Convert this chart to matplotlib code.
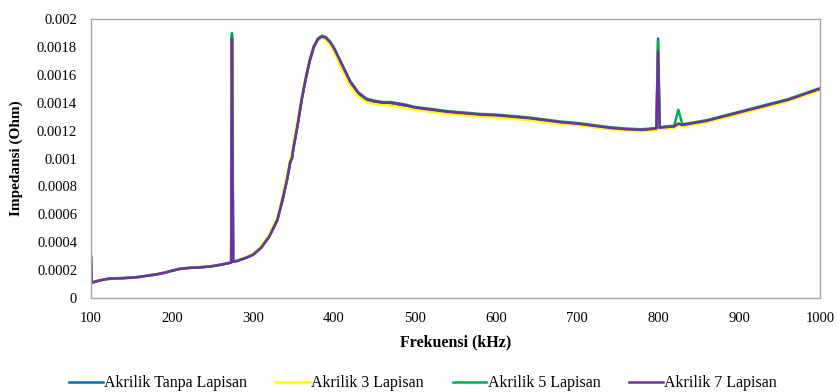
import numpy as np
import matplotlib as mpl
mpl.use('Agg')
import matplotlib.pyplot as plt

plt.rcParams['font.family'] = ['Liberation Serif', 'DejaVu Serif']

# frekuensi (kHz)
freq = [100, 101, 110, 120, 130, 140, 150, 160, 170, 180,
        190, 200, 210, 220, 230, 240, 250, 260, 270, 273,
        274, 275.5, 280, 290, 300, 310, 320, 330, 337, 342,
        346, 348, 350, 355, 360, 365, 370, 375, 380, 385,
        390, 395, 400, 405, 410, 415, 420, 430, 440, 450,
        460, 470, 480, 490, 500, 520, 540, 560, 580, 600,
        620, 640, 660, 680, 700, 720, 740, 760, 780, 790,
        798, 800, 802, 810, 820, 825, 830, 840, 860, 880,
        900, 920, 940, 960, 980, 1000]

# impedansi dalam mOhm
tanpa = [0.29, 0.11, 0.126, 0.137, 0.141, 0.143, 0.146, 0.151, 0.161, 0.168,
         0.181, 0.196, 0.209, 0.216, 0.219, 0.223, 0.229, 0.238, 0.251, 0.256,
         1.88, 0.26, 0.266, 0.286, 0.31, 0.362, 0.442, 0.56, 0.72, 0.85,
         0.975, 1.0, 1.08, 1.24, 1.42, 1.57, 1.70, 1.795, 1.85, 1.87,
         1.86, 1.83, 1.785, 1.725, 1.665, 1.605, 1.545, 1.465, 1.42, 1.405,
         1.395, 1.395, 1.385, 1.375, 1.36, 1.345, 1.33, 1.32, 1.31, 1.305,
         1.295, 1.285, 1.27, 1.255, 1.245, 1.23, 1.215, 1.205, 1.20, 1.205,
         1.21, 1.86, 1.215, 1.22, 1.225, 1.25, 1.235, 1.245, 1.265, 1.295,
         1.325, 1.355, 1.385, 1.415, 1.455, 1.495]
lap3 = [0.29, 0.11, 0.128, 0.135, 0.140, 0.145, 0.145, 0.153, 0.160, 0.170,
        0.182, 0.198, 0.210, 0.217, 0.220, 0.224, 0.230, 0.240, 0.252, 0.257,
        1.87, 0.262, 0.268, 0.29, 0.315, 0.37, 0.455, 0.58, 0.745, 0.875,
        1.0, 1.04, 1.11, 1.27, 1.44, 1.59, 1.71, 1.80, 1.85, 1.865,
        1.85, 1.815, 1.765, 1.70, 1.64, 1.58, 1.52, 1.445, 1.405, 1.39,
        1.385, 1.38, 1.37, 1.36, 1.35, 1.335, 1.32, 1.31, 1.30, 1.295,
        1.285, 1.275, 1.26, 1.25, 1.24, 1.225, 1.21, 1.20, 1.195, 1.20,
        1.205, 1.80, 1.21, 1.215, 1.22, 1.24, 1.23, 1.24, 1.26, 1.29,
        1.32, 1.35, 1.38, 1.41, 1.45, 1.49]
lap5 = [0.29, 0.11, 0.125, 0.137, 0.142, 0.143, 0.147, 0.151, 0.161, 0.169,
        0.180, 0.196, 0.209, 0.215, 0.219, 0.222, 0.229, 0.239, 0.250, 0.256,
        1.90, 0.26, 0.266, 0.285, 0.31, 0.36, 0.44, 0.555, 0.715, 0.845,
        0.97, 1.0, 1.075, 1.235, 1.42, 1.57, 1.705, 1.805, 1.86, 1.88,
        1.87, 1.84, 1.795, 1.735, 1.675, 1.615, 1.555, 1.475, 1.43, 1.415,
        1.405, 1.405, 1.395, 1.385, 1.37, 1.355, 1.34, 1.33, 1.32, 1.315,
        1.305, 1.295, 1.28, 1.265, 1.255, 1.24, 1.225, 1.215, 1.21, 1.215,
        1.22, 1.84, 1.225, 1.23, 1.235, 1.35, 1.245, 1.255, 1.275, 1.305,
        1.335, 1.365, 1.395, 1.425, 1.465, 1.505]
lap7 = [0.30, 0.11, 0.125, 0.136, 0.140, 0.142, 0.145, 0.152, 0.160, 0.168,
        0.180, 0.195, 0.210, 0.215, 0.218, 0.222, 0.228, 0.238, 0.250, 0.255,
        1.86, 0.26, 0.265, 0.285, 0.31, 0.36, 0.44, 0.56, 0.72, 0.85,
        0.98, 1.0, 1.08, 1.24, 1.42, 1.57, 1.70, 1.80, 1.855, 1.875,
        1.865, 1.835, 1.79, 1.73, 1.67, 1.61, 1.55, 1.47, 1.425, 1.41,
        1.40, 1.40, 1.39, 1.38, 1.365, 1.35, 1.335, 1.325, 1.315, 1.31,
        1.30, 1.29, 1.275, 1.26, 1.25, 1.235, 1.22, 1.21, 1.205, 1.21,
        1.215, 1.77, 1.22, 1.225, 1.23, 1.25, 1.24, 1.25, 1.27, 1.30,
        1.33, 1.36, 1.39, 1.42, 1.46, 1.50]

series = [
    ('Akrilik Tanpa Lapisan', tanpa, '#0070C0'),
    ('Akrilik 3 Lapisan', lap3, '#FFFF00'),
    ('Akrilik 5 Lapisan', lap5, '#00B050'),
    ('Akrilik 7 Lapisan', lap7, '#7030A0'),
]

fig = plt.figure(figsize=(8.38, 3.92), dpi=100)
ax = fig.add_axes([0.1086, 0.2398, 0.87, 0.7117])

for name, vals, col in series:
    ax.plot(freq, np.array(vals) * 1e-3, color=col, lw=1.8, label=name)

ax.set_xlim(100, 1000)
ax.set_ylim(0, 0.002)
ax.set_xticks(range(100, 1001, 100))
ax.set_yticks([0, 0.0002, 0.0004, 0.0006, 0.0008, 0.001, 0.0012, 0.0014, 0.0016, 0.0018, 0.002])
ax.set_yticklabels(['0', '0.0002', '0.0004', '0.0006', '0.0008', '0.001', '0.0012',
                    '0.0014', '0.0016', '0.0018', '0.002'])
ax.tick_params(length=0, labelsize=10.5)
ax.tick_params(axis='y', pad=10)
ax.tick_params(axis='x', pad=10)
for s in ax.spines.values():
    s.set_color('#A6A6A6')
    s.set_linewidth(1.0)

ax.set_xlabel('Frekuensi (kHz)', fontsize=11.5, fontweight='bold', labelpad=7)
ax.set_ylabel('Impedansi (Ohm)', fontsize=11, fontweight='bold', labelpad=10)

fig.legend(loc='lower center', bbox_to_anchor=(0.505, -0.035), ncol=4, frameon=False,
           fontsize=11.5, handlelength=2.1, handletextpad=0.1, columnspacing=1.8)

fig.savefig('out.png', dpi=100)
